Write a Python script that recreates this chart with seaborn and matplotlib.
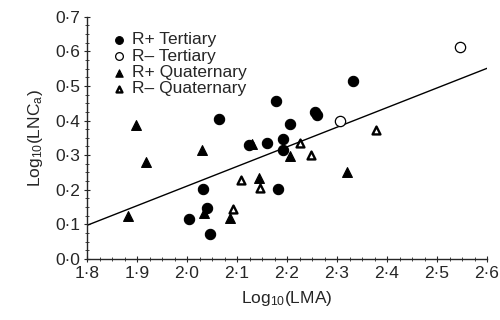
import matplotlib
matplotlib.use("Agg")
import matplotlib.pyplot as plt
import seaborn as sns
import pandas as pd
from matplotlib.ticker import MultipleLocator, FixedLocator, FixedFormatter

# ---- data ----
rp_tert_x = [2.064, 2.178, 2.255, 2.259, 2.206, 2.124, 2.159, 2.191, 2.191, 2.331,
             2.181, 2.031, 2.039, 2.004, 2.045]
rp_tert_y = [0.404, 0.457, 0.425, 0.417, 0.389, 0.330, 0.336, 0.347, 0.314, 0.515,
             0.203, 0.201, 0.147, 0.116, 0.072]
rm_tert_x = [2.306, 2.546]
rm_tert_y = [0.399, 0.612]
rp_quat_x = [1.897, 1.918, 1.881, 2.030, 2.129, 2.205, 2.143, 2.033, 2.086, 2.319]
rp_quat_y = [0.388, 0.280, 0.123, 0.314, 0.331, 0.297, 0.235, 0.133, 0.118, 0.251]
rm_quat_x = [2.225, 2.247, 2.378, 2.108, 2.146, 2.091]
rm_quat_y = [0.336, 0.300, 0.374, 0.227, 0.206, 0.145]

fit_x = [1.8, 2.6]
fit_y = [0.097, 0.551]

x_ticks = [1.8, 1.9, 2.0, 2.1, 2.2, 2.3, 2.4, 2.5, 2.6]
x_labels = ["1·8", "1·9", "2·0", "2·1", "2·2", "2·3", "2·4", "2·5", "2·6"]
y_ticks = [0.0, 0.1, 0.2, 0.3, 0.4, 0.5, 0.6, 0.7]
y_labels = ["0·0", "0·1", "0·2", "0·3", "0·4", "0·5", "0·6", "0·7"]

labels = ["R+ Tertiary", "R– Tertiary", "R+ Quaternary", "R– Quaternary"]

sns.set_style("ticks")
plt.rcParams["font.family"] = ["Liberation Sans", "DejaVu Sans"]
plt.rcParams["mathtext.default"] = "regular"

fig = plt.figure(figsize=(5, 3.2), dpi=100)
ax = fig.add_axes([0.174, 0.191, 0.800, 0.7565])

groups = [
    (rp_tert_x, rp_tert_y, labels[0], "o", "black", "black", 0.8, 55),
    (rm_tert_x, rm_tert_y, labels[1], "o", "white", "black", 0.9, 55),
    (rp_quat_x, rp_quat_y, labels[2], "^", "black", "black", 0.8, 50),
    (rm_quat_x, rm_quat_y, labels[3], "^", "white", "black", 1.7, 32),
]

sns.lineplot(x=fit_x, y=fit_y, ax=ax, color="black", linewidth=1.0, legend=False)

for xs, ys, lab, mk, fc, ec, lw, s in groups:
    df = pd.DataFrame({"x": xs, "y": ys})
    sns.scatterplot(data=df, x="x", y="y", ax=ax, marker=mk, s=s,
                    facecolor=fc, edgecolor=ec, linewidth=lw, label=lab, zorder=3)

ax.set_xlim(1.8, 2.6)
ax.set_ylim(0.0, 0.7)
ax.xaxis.set_major_locator(FixedLocator(x_ticks))
ax.xaxis.set_major_formatter(FixedFormatter(x_labels))
ax.yaxis.set_major_locator(FixedLocator(y_ticks))
ax.yaxis.set_major_formatter(FixedFormatter(y_labels))
ax.xaxis.set_minor_locator(MultipleLocator(0.025))
ax.yaxis.set_minor_locator(MultipleLocator(0.025))
ax.tick_params(axis="both", which="major", direction="inout", length=4, width=0.8,
               labelsize=12.5, pad=3)
ax.tick_params(axis="both", which="minor", direction="inout", length=3, width=0.6)
sns.despine(ax=ax)
for sp in ["left", "bottom"]:
    ax.spines[sp].set_linewidth(1.0)

ax.set_xlabel("Log$_{10}$(LMA)", fontsize=12.5, labelpad=6)
ax.set_ylabel("Log$_{10}$(LNC$_{a}$)", fontsize=12.5, labelpad=7)

leg = ax.legend(loc="upper left", bbox_to_anchor=(0.045, 0.965), frameon=False,
                fontsize=12.5, handletextpad=0.35, labelspacing=0.07,
                borderaxespad=0, markerscale=0.75, handlelength=0.8)

fig.savefig("out.png", dpi=100)
